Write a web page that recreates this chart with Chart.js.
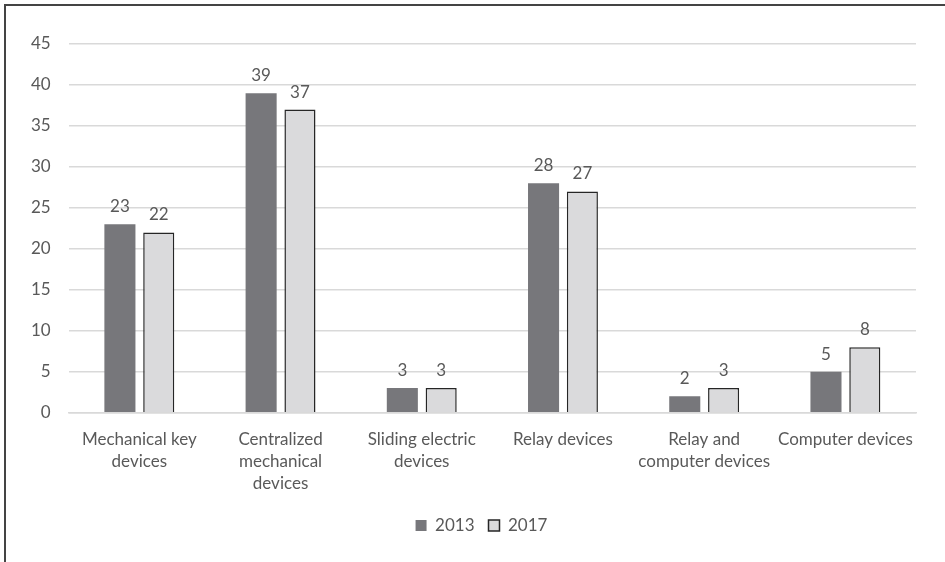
<!DOCTYPE html>
<html>
<head>
<meta charset="utf-8">
<script src="https://cdn.jsdelivr.net/npm/chart.js@4/dist/chart.umd.min.js"></script>
<style>
  html, body { margin: 0; padding: 0; background: #fff; }
  #frame {
    position: absolute; left: 4px; top: 4px; width: 1000px; height: 1000px;
    border-left: 2px solid #444; border-top: 2px solid #444;
  }
  #wrap { position: absolute; left: 0; top: 0; width: 945px; height: 562px; }
</style>
</head>
<body>
<div id="frame"></div>
<div id="wrap"><canvas id="chart" width="945" height="562"></canvas></div>
<script>
const categories = [
  ['Mechanical key', 'devices'],
  ['Centralized', 'mechanical', 'devices'],
  ['Sliding electric', 'devices'],
  'Relay devices',
  ['Relay and', 'computer devices'],
  'Computer devices'
];
const values2013 = [23, 39, 3, 28, 2, 5];
const values2017 = [22, 37, 3, 27, 3, 8];
const yTicks = [0, 5, 10, 15, 20, 25, 30, 35, 40, 45];

const textColor = '#595959';
const fontFamily = 'Lato, "Open Sans", sans-serif';

const barLabels = {
  id: 'barLabels',
  afterLayout(chart) {
    // legend sits a bit right of centre in the original
    chart.legend.left += 17;
    chart.legend.right += 17;
  },
  afterDatasetsDraw(chart) {
    const ctx = chart.ctx;
    ctx.save();
    ctx.fillStyle = textColor;
    ctx.font = '17px ' + fontFamily;
    ctx.textAlign = 'center';
    ctx.textBaseline = 'bottom';
    chart.data.datasets.forEach((ds, i) => {
      chart.getDatasetMeta(i).data.forEach((bar, j) => {
        ctx.fillText(String(ds.data[j]), bar.x, bar.y - 9);
      });
    });
    ctx.restore();
  }
};

new Chart(document.getElementById('chart').getContext('2d'), {
  type: 'bar',
  data: {
    labels: categories,
    datasets: [{
      label: '2013',
      data: values2013,
      backgroundColor: '#77777b',
      borderWidth: 0,
      barPercentage: 0.8,
      categoryPercentage: 0.55
    }, {
      label: '2017',
      data: values2017,
      backgroundColor: '#dadadc',
      borderColor: '#262626',
      borderWidth: 1.5,
      barPercentage: 0.8,
      categoryPercentage: 0.55
    }]
  },
  options: {
    responsive: false,
    animation: false,
    layout: { padding: { left: 13, right: 29, top: 44, bottom: 18 } },
    plugins: {
      tooltip: { enabled: false },
      legend: {
        position: 'bottom',
        labels: {
          color: textColor,
          font: { size: 17, family: fontFamily },
          boxWidth: 11,
          boxHeight: 11,
          padding: 14
        }
      }
    },
    scales: {
      x: {
        grid: { display: false },
        border: { color: '#d9d9d9', width: 1.5 },
        ticks: {
          color: textColor,
          font: { size: 17, family: fontFamily, lineHeight: 1.3 },
          maxRotation: 0,
          autoSkip: false,
          padding: 8
        }
      },
      y: {
        min: 0,
        max: 45,
        afterBuildTicks: axis => { axis.ticks = yTicks.map(v => ({ value: v })); },
        grid: { color: '#d9d9d9', lineWidth: 1.5, drawTicks: false },
        border: { display: false },
        ticks: {
          color: textColor,
          font: { size: 17, family: fontFamily },
          padding: 18
        }
      }
    }
  },
  plugins: [barLabels]
});
</script>
</body>
</html>
